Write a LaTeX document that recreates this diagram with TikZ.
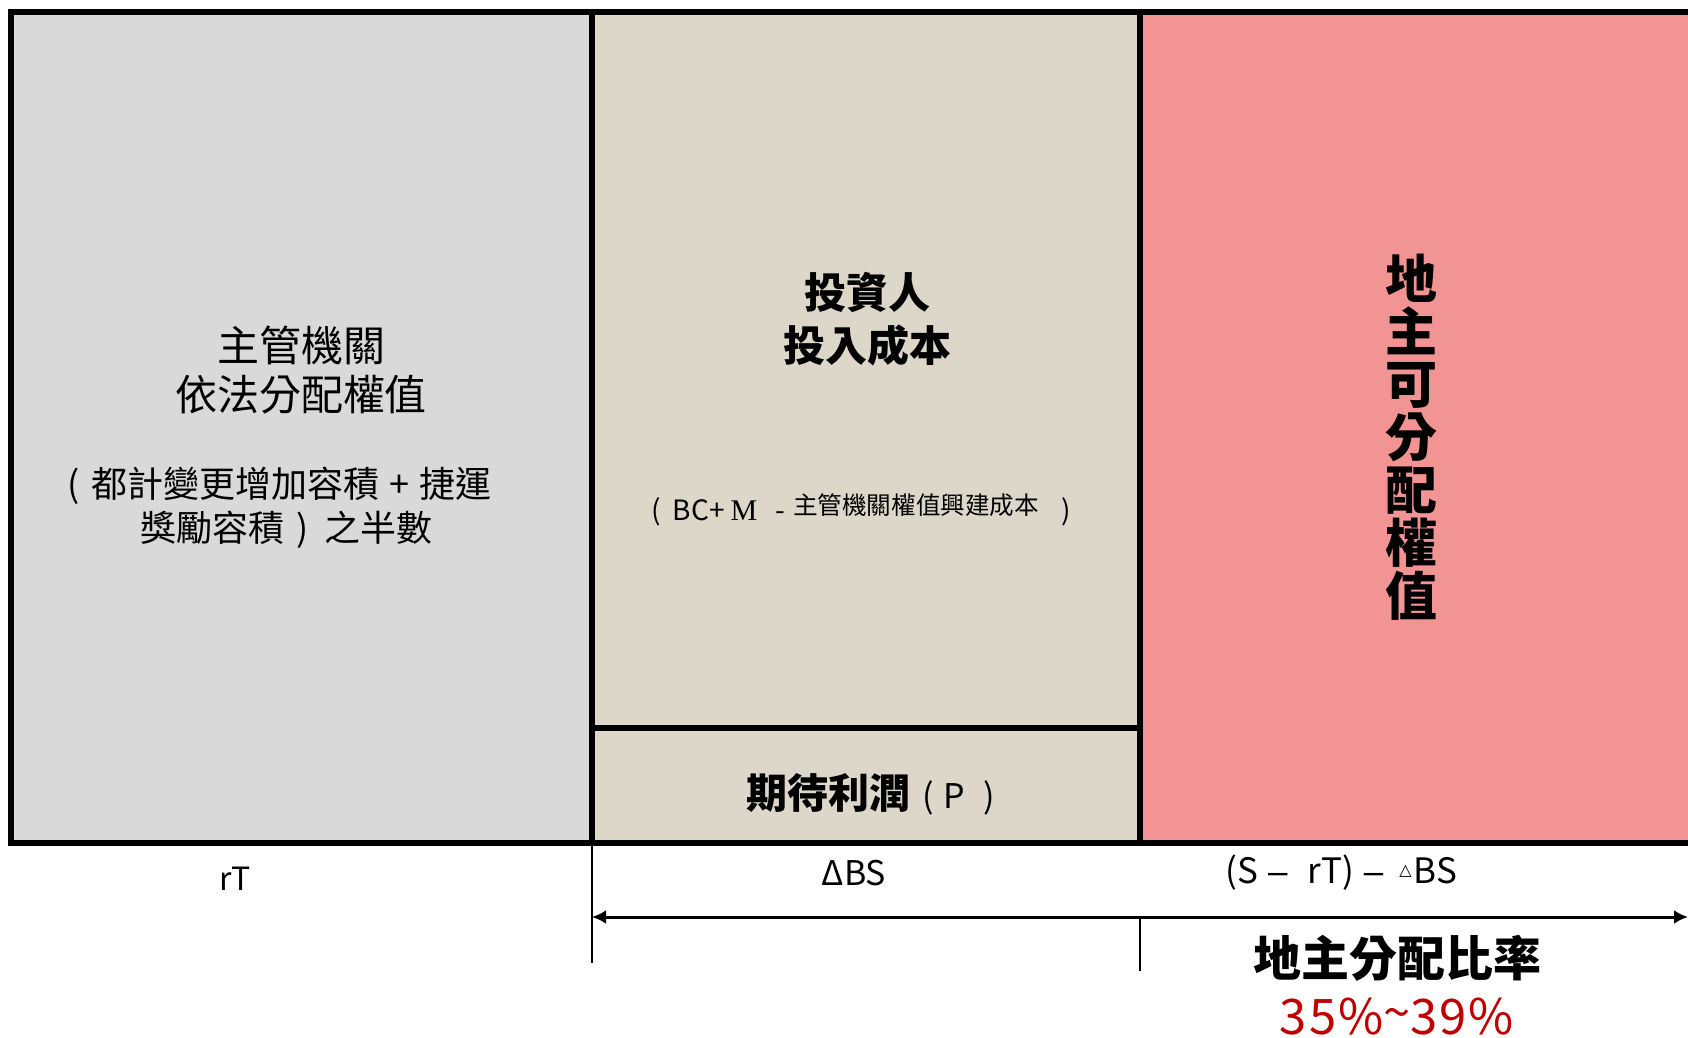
\documentclass[tikz,border=0pt]{standalone}
\usepackage{fontspec}
\setmainfont{Noto Sans CJK TC}
\newfontfamily\serifM{Liberation Serif}
\newfontfamily\symfont{DejaVu Sans}
\newfontfamily\dashfont{Liberation Sans}
\usetikzlibrary{arrows.meta}
\definecolor{govfill}{HTML}{D9D9D9}
\definecolor{invfill}{HTML}{DDD7C9}
\definecolor{ownfill}{HTML}{F29394}
\definecolor{darkred}{HTML}{C00000}
\tikzset{
  border/.style={line width=2.7pt, line cap=rect},
  thin/.style={line width=0.75pt},
  lbl/.style={inner sep=0pt, align=center},
  dim/.style={line width=1.5pt, {Latex[length=7pt,width=7pt]}-{Latex[length=7pt,width=7pt]}}
}
\newcommand{\fs}[1]{\fontsize{#1}{#1}\selectfont}
\newcommand{\ldash}{{\dashfont –}}
\begin{document}
\begin{tikzpicture}[x=0.5pt,y=-0.5pt]
\useasboundingbox (0,0) rectangle (1688,1038);
\fill[white] (0,0) rectangle (1688,1038);
\begin{scope}
\clip (0,0) rectangle (1688,1038);
% coordinates
\coordinate (TL) at (11,12);
\coordinate (D1T) at (592,12);
\coordinate (D2T) at (1140,12);
\coordinate (BL) at (11,843);
\coordinate (D1B) at (592,843);
\coordinate (D2B) at (1140,843);
\coordinate (RT) at (1700,12);
\coordinate (RB) at (1700,843);
\coordinate (PL) at (592,728);
\coordinate (PR) at (1140,728);
% fills
\fill[govfill] (TL) rectangle (D1B);
\fill[invfill] (D1T) rectangle (D2B);
\fill[ownfill] (D2T) rectangle (RB);
% borders
\draw[border] (RT) -- (TL) -- (BL) -- (RB);
\draw[border] (D1T) -- (D1B);
\draw[border] (D2T) -- (D2B);
\draw[border] (PL) -- (PR);
% lower dimension lines
\coordinate (V1b) at (592,963);
\coordinate (V2t) at (1140,919);
\coordinate (V2b) at (1140,971);
\coordinate (AL) at (592,917);
\coordinate (AR) at (1688,917);
\draw[thin] (D1B) -- (V1b);
\draw[thin] (V2t) -- (V2b);
\draw[dim] (AL) -- (AR);
\end{scope}
% left box text
\node[lbl, font=\fs{21}] (g1) at (301,345) {主管機關};
\node[lbl, font=\fs{21}] (g2) at (301,395) {依法分配權值};
\node[lbl, font=\fs{18}, anchor=west] (g3) at (67,486) {(\hspace{6pt}都計變更增加容積\hspace{5pt}+\hspace{5pt}捷運};
\node[lbl, font=\fs{18}, anchor=west] (g4) at (140,530) {獎勵容積\hspace{6pt})\hspace{8pt}之半數};
% middle box text
\node[lbl, font=\bfseries\fs{21}] (i1) at (867,292) {投資人};
\node[lbl, font=\bfseries\fs{21}] (i2) at (867,345) {投入成本};
\node[lbl, font=\fs{14}, anchor=base west] (i3) at (651,520) {(\hspace{6pt}BC+\hspace{3pt}{\serifM\fontsize{15}{15}\selectfont M}\hspace{9pt}-\hspace{4pt}\raisebox{3pt}{\fontsize{12.3}{12.3}\selectfont 主管機關權值興建成本}\hspace{11pt})};
\node[lbl, font=\fs{17}, anchor=west] (p1) at (746,794) {{\bfseries\fs{20.5}期待利潤}\hspace{6pt}(\hspace{5pt}P\hspace{9pt})};
% right box text
\node[lbl, font=\bfseries\fs{26}] (o1) at (1411,437) {地\\[0.4pt]主\\[0.4pt]可\\[0.4pt]分\\[0.4pt]配\\[0.4pt]權\\[0.4pt]值};
% bottom labels
\node[lbl, font=\fs{16}] (rT) at (235,879) {rT};
\node[lbl, font=\fs{17}] (dBS) at (854,873) {ΔBS};
\node[lbl, font=\fs{17.5}, anchor=west] (rest) at (1225,873) {(S\hspace{5pt}\ldash\hspace{10pt}rT)\hspace{5pt}\ldash\hspace{8pt}\raisebox{4pt}{\symfont\fontsize{8}{8}\selectfont △}\hspace{1pt}BS};
\node[lbl, font=\bfseries\fs{24}] (ratio) at (1397,958) {地主分配比率};
\node[lbl, font=\fs{24.5}, text=darkred] (pct) at (1397,1017) {3\hspace{1pt}5\hspace{1pt}\%\raisebox{2pt}{\~{}}3\hspace{1pt}9\hspace{1pt}\%};
\end{tikzpicture}
\end{document}
